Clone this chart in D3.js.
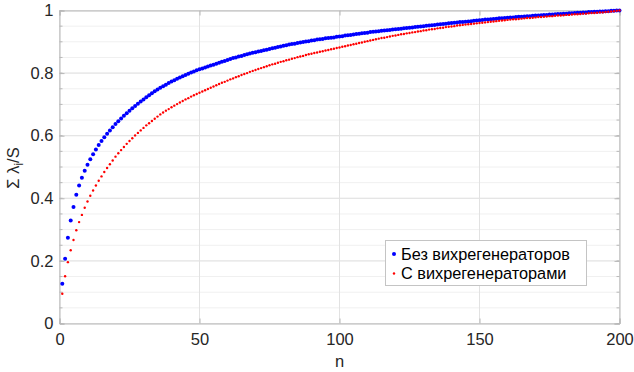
<!DOCTYPE html>
<html><head><meta charset="utf-8">
<script src="https://cdn.jsdelivr.net/npm/d3@7"></script>
<style>
html,body{margin:0;padding:0;background:#fff;}
svg{display:block;font-family:"Liberation Sans",Arial,sans-serif;}
</style></head>
<body><svg id="c" width="634" height="372"></svg>
<script>
const seriesNames = ["Без вихрегенераторов", "С вихрегенераторами"];
const blueValues = [
.127,.207,.274,.329,.372,.411,.441,.466,.488,.507,
.525,.541,.556,.570,.583,.595,.606,.617,.627,.637,
.646,.655,.664,.672,.680,.688,.695,.702,.709,.716,
.723,.729,.736,.742,.748,.753,.758,.763,.768,.773,
.777,.782,.786,.790,.794,.798,.802,.805,.809,.812,
.815,.818,.821,.824,.827,.830,.833,.836,.839,.842,
.845,.848,.850,.853,.855,.858,.860,.863,.865,.867,
.869,.871,.873,.875,.877,.879,.881,.883,.885,.887,
.889,.891,.893,.894,.896,.898,.899,.901,.902,.904,
.905,.907,.908,.909,.911,.912,.913,.914,.916,.917,
.918,.920,.921,.922,.923,.925,.926,.927,.928,.929,
.931,.932,.933,.934,.935,.936,.937,.938,.939,.940,
.941,.942,.943,.944,.945,.946,.947,.948,.949,.950,
.951,.952,.953,.954,.955,.956,.957,.958,.959,.960,
.961,.962,.963,.963,.964,.965,.966,.967,.968,.969,
.970,.971,.971,.972,.973,.974,.975,.975,.976,.977,
.978,.978,.979,.980,.980,.981,.982,.982,.983,.984,
.984,.985,.986,.986,.987,.987,.988,.989,.989,.990,
.990,.991,.991,.992,.993,.993,.994,.994,.995,.995,
.996,.996,.997,.997,.998,.998,.999,.999,1.000,1.000];
const redValues = [
.095,.151,.196,.234,.267,.298,.324,.347,.370,.390,
.408,.425,.441,.456,.470,.484,.497,.509,.521,.533,
.544,.554,.564,.574,.583,.592,.601,.609,.617,.625,
.633,.640,.647,.654,.661,.668,.674,.680,.685,.691,
.696,.701,.706,.711,.716,.720,.725,.729,.733,.737,
.741,.745,.749,.753,.757,.761,.765,.769,.772,.776,
.780,.783,.787,.790,.794,.797,.800,.804,.807,.810,
.813,.816,.819,.822,.825,.828,.830,.833,.836,.838,
.841,.843,.846,.848,.851,.853,.855,.858,.860,.862,
.864,.866,.868,.870,.872,.874,.876,.878,.880,.882,
.884,.886,.888,.890,.892,.894,.896,.898,.900,.902,
.904,.906,.908,.910,.912,.913,.915,.917,.919,.920,
.922,.924,.925,.927,.928,.930,.931,.933,.934,.936,
.937,.939,.940,.941,.943,.944,.945,.947,.948,.949,
.950,.952,.953,.954,.955,.956,.957,.958,.959,.960,
.961,.962,.963,.964,.965,.966,.967,.968,.969,.970,
.971,.972,.972,.973,.974,.975,.976,.976,.977,.978,
.979,.979,.980,.981,.982,.982,.983,.984,.984,.985,
.986,.986,.987,.988,.988,.989,.990,.990,.991,.992,
.992,.993,.994,.994,.995,.996,.997,.998,.999,1.000];
const xTicks = [0, 50, 100, 150, 200];
const xTickLabels = ["0", "50", "100", "150", "200"];
const yTicks = [0, 0.2, 0.4, 0.6, 0.8, 1];
const yTickLabels = ["0", "0.2", "0.4", "0.6", "0.8", "1"];
const yMinorTicks = d3.range(0, 1.0001, 0.05);

const svg = d3.select("#c");
const L = 59.5, R = 619.5, T = 10.5, B = 323.5;
const x = d3.scaleLinear().domain([0, 200]).range([L, R]);
const y = d3.scaleLinear().domain([0, 1]).range([B, T]);
const axisCol = "#b8b8b8", textCol = "#262626";

// minor grid
svg.append("g").selectAll("line").data(yMinorTicks).join("line")
  .attr("x1", L).attr("x2", R).attr("y1", d => y(d)).attr("y2", d => y(d))
  .attr("stroke", "#f0f0f0").attr("stroke-width", 1);
// major grid
svg.append("g").selectAll("line").data(yTicks).join("line")
  .attr("x1", L).attr("x2", R).attr("y1", d => y(d)).attr("y2", d => y(d))
  .attr("stroke", "#e2e2e2");
svg.append("g").selectAll("line").data(xTicks).join("line")
  .attr("y1", T).attr("y2", B).attr("x1", d => x(d)).attr("x2", d => x(d))
  .attr("stroke", "#e2e2e2");

// axes
const fs = "16.5px";
const gx = svg.append("g").attr("transform", `translate(0,${B})`)
  .call(d3.axisBottom(x).tickValues(xTicks).tickFormat((d,i)=>xTickLabels[i]).tickSize(-5).tickPadding(10));
const gy = svg.append("g").attr("transform", `translate(${L},0)`)
  .call(d3.axisLeft(y).tickValues(yTicks).tickFormat((d,i)=>yTickLabels[i]).tickSize(-5).tickPadding(6));
const gx2 = svg.append("g").attr("transform", `translate(0,${T})`)
  .call(d3.axisTop(x).tickValues(xTicks).tickFormat("").tickSize(-5));
const gy2 = svg.append("g").attr("transform", `translate(${R},0)`)
  .call(d3.axisRight(y).tickValues(yTicks).tickFormat("").tickSize(-5));
[gx, gy, gx2, gy2].forEach(g => {
  g.selectAll(".domain").attr("stroke", axisCol);
  g.selectAll(".tick line").attr("stroke", axisCol);
  g.selectAll(".tick text").attr("fill", textCol).style("font-size", fs)
    .style("font-family", '"Liberation Sans",Arial,sans-serif');
});
gx.selectAll(".tick text").attr("dy", "0.71em");
// minor ticks
[L, R].forEach((px, k) => {
  svg.append("g").selectAll("line").data(yMinorTicks).join("line")
    .attr("x1", px).attr("x2", k === 0 ? px + 3 : px - 3)
    .attr("y1", d => y(d)).attr("y2", d => y(d)).attr("stroke", axisCol);
});

// data
svg.append("g").selectAll("circle").data(blueValues).join("circle")
  .attr("cx", (d,i) => x(i + 1)).attr("cy", d => y(d)).attr("r", 2).attr("fill", "#0000ff");
svg.append("g").selectAll("circle").data(redValues).join("circle")
  .attr("cx", (d,i) => x(i + 1)).attr("cy", d => y(d)).attr("r", 1.2).attr("fill", "#ff0000");

// axis labels
svg.append("text").attr("x", (L + R) / 2).attr("y", 367).attr("text-anchor", "middle")
  .attr("fill", textCol).style("font-size", fs).text("n");
const yl = svg.append("text").attr("transform", "translate(19,168) rotate(-90)")
  .attr("text-anchor", "middle").attr("fill", textCol).style("font-size", fs);
yl.append("tspan").text("Σ λ");
yl.append("tspan").attr("dy", 4).style("font-size", "12px").text("i");
yl.append("tspan").attr("dy", -4).text("/S");

// legend
const lg = svg.append("g");
lg.append("rect").attr("x", 385.5).attr("y", 240.5).attr("width", 201).attr("height", 45)
  .attr("fill", "#fff").attr("stroke", "#c4c4c4");
const lgItems = [{name: seriesNames[0], c: "#0000ff", r: 2}, {name: seriesNames[1], c: "#ff0000", r: 1.2}];
lgItems.forEach((it, i) => {
  const cy = 254 + i * 19.5;
  lg.append("circle").attr("cx", 394).attr("cy", cy).attr("r", it.r).attr("fill", it.c);
  lg.append("text").attr("x", 401).attr("y", cy + 5.8).attr("fill", "#000")
    .style("font-size", "16.3px").text(it.name);
});
</script></body></html>
